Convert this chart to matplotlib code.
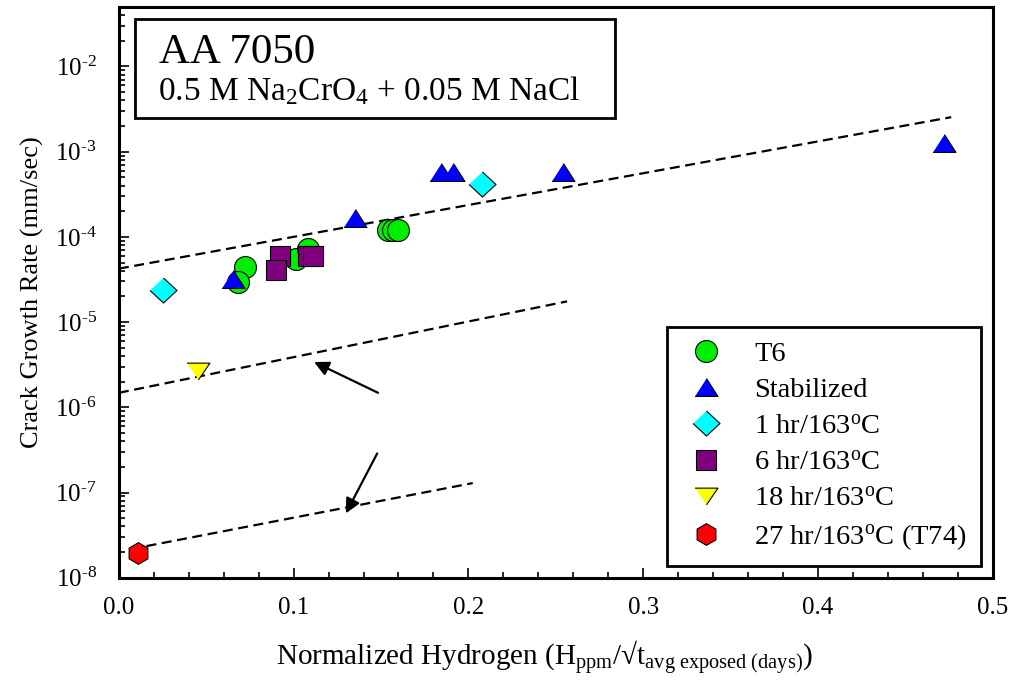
import matplotlib
matplotlib.use('Agg')

import math
import matplotlib.pyplot as plt
from matplotlib.patches import Rectangle
from matplotlib.ticker import MultipleLocator, FixedLocator, FuncFormatter, LogLocator, NullFormatter

plt.rcParams['font.family'] = ['Liberation Serif', 'DejaVu Serif']
plt.rcParams['mathtext.fontset'] = 'custom'
plt.rcParams['mathtext.rm'] = 'Liberation Serif'
plt.rcParams['mathtext.it'] = 'Liberation Serif:italic'
plt.rcParams['mathtext.bf'] = 'Liberation Serif:bold'

# data
t6_x = [0.0721, 0.0681, 0.1013, 0.1080, 0.1540, 0.1570, 0.1600]
t6_y = [4.43e-5, 2.93e-5, 5.45e-5, 7.28e-5, 1.19e-4, 1.19e-4, 1.19e-4]

stab_x = [0.0654, 0.1352, 0.1846, 0.1912, 0.2540, 0.4720]
stab_y = [3.17e-5, 1.68e-4, 5.75e-4, 5.75e-4, 5.75e-4, 1.26e-3]

h1_x = [0.0250, 0.2078]
h1_y = [2.36e-5, 4.21e-4]

h6_x = [0.0921, 0.0902, 0.1083, 0.1112]
h6_y = [5.90e-5, 4.13e-5, 5.90e-5, 5.90e-5]

h18_x = [0.0452]
h18_y = [2.67e-6]

h27_x = [0.0107]
h27_y = [1.96e-8]

# dashed trend lines (start, end)
fit1_x = [0.0, 0.4763]
fit1_y = [4.24e-5, 2.54e-3]
fit2_x = [0.0, 0.2565]
fit2_y = [1.48e-6, 1.75e-5]
fit3_x = [0.0158, 0.2025]
fit3_y = [2.35e-8, 1.29e-7]

# arrows (tail -> tip)
arrow1 = ((0.1483, 1.48e-6), (0.1117, 3.40e-6))
arrow2 = ((0.1478, 2.87e-7), (0.1299, 5.69e-8))

labels = ['T6', 'Stabilized', r'1 hr/163$^{\rm o}$C', r'6 hr/163$^{\rm o}$C',
          r'18 hr/163$^{\rm o}$C', r'27 hr/163$^{\rm o}$C (T74)']

tri_up = [(-1, -0.78), (1, -0.78), (0, 0.78)]
tri_dn = [(-1, 0.73), (1, 0.73), (0, -0.73)]
diamond = [(0, 0.93), (1, 0), (0, -0.93), (-1, 0)]

fig = plt.figure(figsize=(10.16, 6.89), dpi=100)
ax = fig.add_axes([0.117, 0.1615, 0.86, 0.8285])

ax.plot(fit1_x, fit1_y, color='black', lw=1.6, dashes=(4.5, 2.5), zorder=2)
ax.plot(fit2_x, fit2_y, color='black', lw=1.6, dashes=(4.5, 2.5), zorder=2)
ax.plot(fit3_x, fit3_y, color='black', lw=1.6, dashes=(4.5, 2.5), zorder=2)

mkw = dict(linestyle='none', markeredgecolor='black', markeredgewidth=0.8, zorder=3)
ax.plot(t6_x, t6_y, marker='o', ms=15.8, markerfacecolor='#00ee00', label=labels[0], **mkw)
ax.plot(stab_x, stab_y, marker=tri_up, ms=16.5, markerfacecolor='#0000ff', label=labels[1], **mkw)
ax.plot(h1_x, h1_y, marker=diamond, ms=19.4, markerfacecolor='#00ffff', label=labels[2], **mkw)
ax.plot(h6_x, h6_y, marker='s', ms=14, markerfacecolor='#800080', label=labels[3], **mkw)
ax.plot(h18_x, h18_y, marker=tri_dn, ms=16.5, markerfacecolor='#ffff00', label=labels[4], **mkw)
ax.plot(h27_x, h27_y, marker='h', ms=15.6, markerfacecolor='#ff0000', label=labels[5], **mkw)

for tail, tip in (arrow1, arrow2):
    ax.annotate('', xy=tip, xytext=tail,
                arrowprops=dict(arrowstyle='-|>', color='black', lw=1.6,
                                mutation_scale=22, shrinkA=0, shrinkB=0))

ax.set_yscale('log')
ax.set_xlim(0, 0.5)
ax.set_ylim(1e-8, 0.05)

ax.xaxis.set_major_locator(MultipleLocator(0.1))
ax.xaxis.set_minor_locator(MultipleLocator(0.02))
ax.xaxis.set_major_formatter(FuncFormatter(lambda v, p: f'{v:.1f}'))
ax.yaxis.set_major_locator(FixedLocator([10.0 ** e for e in range(-8, -1)]))
ax.yaxis.set_minor_locator(LogLocator(base=10, subs=range(2, 10), numticks=20))
ax.yaxis.set_minor_formatter(NullFormatter())
ax.yaxis.set_major_formatter(FuncFormatter(
    lambda v, p: r'10$^{\text{-}%d}$' % round(-math.log10(v))))

ax.tick_params(which='both', direction='in', top=False, right=False,
               labelsize=18, width=1.2)
ax.tick_params(which='major', length=7)
ax.tick_params(axis='x', which='major', pad=14)
ax.tick_params(axis='y', which='major', pad=16)
ax.tick_params(which='minor', length=4)
for s in ax.spines.values():
    s.set_linewidth(2.2)

ax.set_ylabel('Crack Growth Rate (mm/sec)', fontsize=19, labelpad=8)
ax.set_xlabel(r'Normalized Hydrogen (H$_{\rm ppm}$/√t$_{\rm avg\ exposed\ (days)}$)',
              fontsize=21, labelpad=14)
ax.xaxis.label.set_x(0.487)

box = Rectangle((0.0183, 0.8055), 0.5492, 0.1735, transform=ax.transAxes,
                facecolor='white', edgecolor='black', lw=2, zorder=4)
ax.add_patch(box)
ax.text(0.0458, 0.902, 'AA 7050', transform=ax.transAxes, fontsize=31,
        ha='left', va='baseline', zorder=5)
ax.text(0.0446, 0.837, r'0.5 M Na$_2$CrO$_4$ + 0.05 M NaCl', transform=ax.transAxes,
        fontsize=24, ha='left', va='baseline', zorder=5)

leg = ax.legend(loc='lower right', bbox_to_anchor=(0.987, 0.0205), borderaxespad=0,
                fontsize=20.5, frameon=True, fancybox=False, edgecolor='black',
                framealpha=1, labelspacing=0.36, handlelength=1.75, handletextpad=0.84,
                borderpad=0.5)
leg.get_frame().set_linewidth(2)

fig.savefig('out.png', dpi=100)
